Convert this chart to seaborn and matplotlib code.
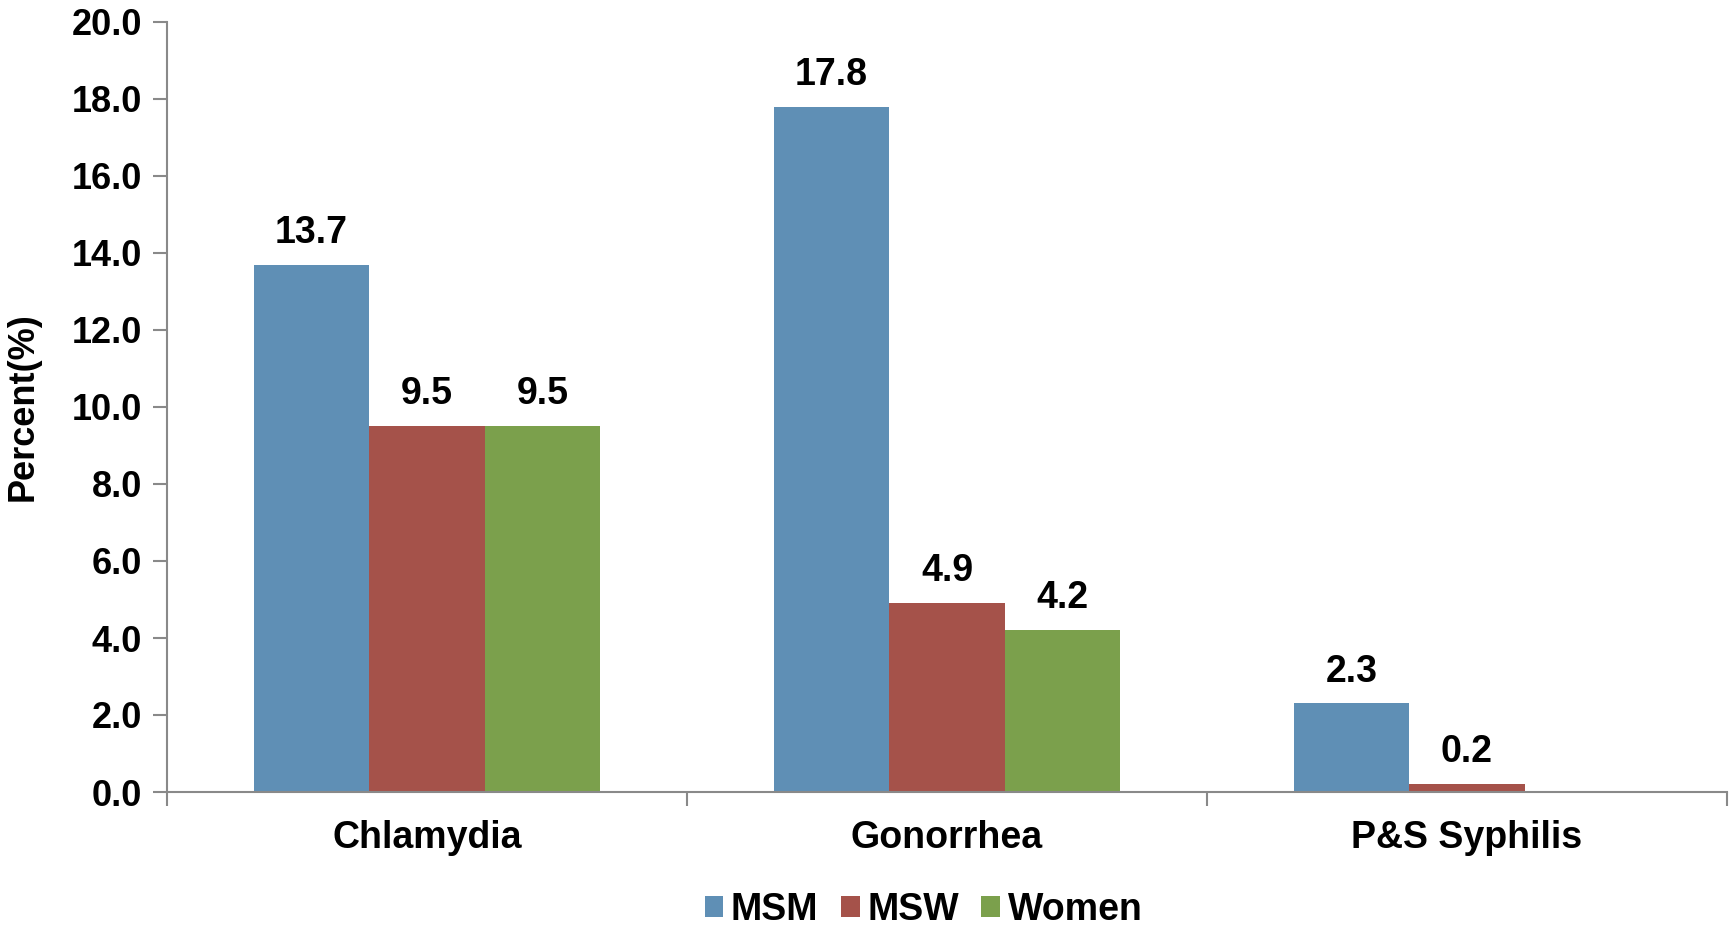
import matplotlib
matplotlib.use("Agg")
import matplotlib.pyplot as plt
import seaborn as sns
import pandas as pd
import numpy as np

categories = ["Chlamydia", "Gonorrhea", "P&S Syphilis"]
groups = ["MSM", "MSW", "Women"]
msm = [13.7, 17.8, 2.3]
msw = [9.5, 4.9, 0.2]
women = [9.5, 4.2, np.nan]
colors = ["#5F8FB5", "#A5524A", "#7BA04C"]

rows = []
for g, vals in zip(groups, [msm, msw, women]):
    for c, v in zip(categories, vals):
        rows.append({"Disease": c, "Group": g, "Value": v})
df = pd.DataFrame(rows)

sns.set_theme(style="ticks")
plt.rcParams["font.family"] = ["Liberation Sans", "DejaVu Sans"]
plt.rcParams["font.weight"] = "bold"
plt.rcParams["text.color"] = "black"
plt.rcParams["axes.labelcolor"] = "black"
plt.rcParams["xtick.color"] = "black"
plt.rcParams["ytick.color"] = "black"

fig = plt.figure(figsize=(17.29, 9.30), dpi=100)
ax = fig.add_axes([167/1729, 1 - 792/930, (1727-167)/1729, (792-22)/930])

sns.barplot(data=df, x="Disease", y="Value", hue="Group", order=categories,
            hue_order=groups, palette=colors, width=0.667, gap=0, saturation=1,
            errorbar=None, ax=ax, legend=True, linewidth=0)

for cont in ax.containers:
    labels = ["" if np.isnan(b.get_height()) else f"{b.get_height():.1f}" for b in cont]
    ax.bar_label(cont, labels=labels, padding=10, fontsize=27, fontweight="bold", color="black")

ax.set_xlim(-0.5, 2.5)
ax.set_ylim(0, 20)
ax.set_yticks(np.arange(0, 20.1, 2))
ax.set_yticklabels([f"{v:.1f}" for v in np.arange(0, 20.1, 2)], fontsize=26, fontweight="bold")
ax.set_xticks(range(3))
ax.set_xticklabels(categories, fontsize=27, fontweight="bold")
ax.set_xticks([-0.5, 0.5, 1.5, 2.5], minor=True)
ax.tick_params(axis="x", which="major", length=0, pad=20, bottom=True, labelcolor="black")
ax.tick_params(axis="x", which="minor", length=10, color="#898989", width=1.5, direction="out", bottom=True)
ax.tick_params(axis="y", which="major", length=10, color="#898989", width=1.5, direction="out", pad=8, left=True, labelcolor="black")
ax.set_xlabel("")
ax.set_ylabel("Percent(%)", fontsize=26, fontweight="bold", labelpad=22, color="black")

for s in ["top", "right"]:
    ax.spines[s].set_visible(False)
for s in ["left", "bottom"]:
    ax.spines[s].set_color("#898989")
    ax.spines[s].set_linewidth(1.5)

handles, lbls = ax.get_legend_handles_labels()
ax.legend(handles, lbls, loc="lower center", bbox_to_anchor=(0.485, -0.22), ncol=3,
          frameon=False, prop={"weight": "bold", "size": 27},
          handlelength=0.5, handleheight=0.5, handletextpad=0.2, columnspacing=0.6)

fig.savefig("out.png", dpi=100)
